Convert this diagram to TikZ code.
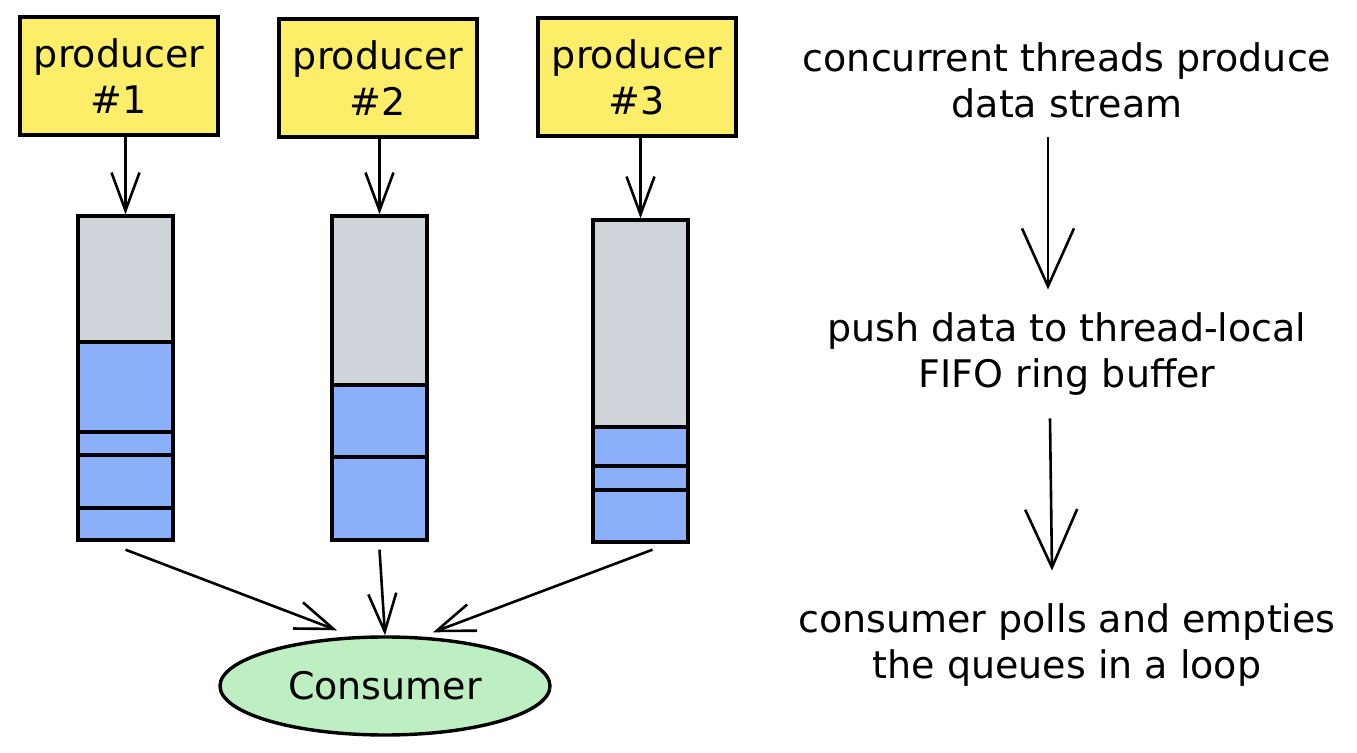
\documentclass[tikz,border=0pt]{standalone}
\usepackage{fontspec}
\setmainfont{DejaVu Sans}
\usetikzlibrary{arrows.meta,shapes.geometric}
\definecolor{prodyellow}{HTML}{FDEE6A}
\definecolor{bufgray}{HTML}{CED4DA}
\definecolor{slotblue}{HTML}{8CAFFA}
\definecolor{consgreen}{HTML}{BDEFC3}
\begin{document}
\begin{tikzpicture}
			[x=0.5pt, y=-0.5pt,
			every node/.style = {font=\fontsize{19pt}{23pt}\selectfont, align=center},
			prod/.style = {rectangle, draw, line width=1.7pt, fill=prodyellow, minimum width=99pt, minimum height=59pt},
			buf/.style = {rectangle, draw, line width=1.7pt, fill=bufgray, minimum width=47.5pt},
			slot/.style = {draw, line width=1.7pt, fill=slotblue},
			cons/.style = {ellipse, draw, line width=1.7pt, fill=consgreen, minimum width=165pt, minimum height=49pt},
			arr/.style = {-{Straight Barb[length=19pt, width=14pt, line width=1.3pt]}, line width=1.3pt},
			bigarr/.style = {-{Straight Barb[length=29pt, width=26pt, line width=1.3pt]}, line width=1.3pt}]
			\useasboundingbox (0,0) rectangle (1357,753);
			% producers
			\node[prod] (p1) at (119,76) {producer\\\#1};
			\node[prod] (p2) at (378,78) {producer\\\#2};
			\node[prod] (p3) at (637,77) {producer\\\#3};
			% ring buffers
			\node[buf, minimum height=162pt] (b1) at (125.5,378) {};
			\foreach \a/\b in {342/432, 432/455, 455/508, 508/540}
				\filldraw[slot] (78,\a) rectangle (173,\b);
			\node[buf, minimum height=162pt] (b2) at (379.5,378) {};
			\foreach \a/\b in {385/457, 457/540}
				\filldraw[slot] (332,\a) rectangle (427,\b);
			\node[buf, minimum height=161pt] (b3) at (640.5,381) {};
			\foreach \a/\b in {427/466, 466/490, 490/542}
				\filldraw[slot] (593,\a) rectangle (688,\b);
			% consumer
			\node[cons] (c) at (385,686) {Consumer};
			\draw[arr] (b1.north |- p1.south) -- (b1.north);
			\draw[arr] (b2.north |- p2.south) -- (b2.north);
			\draw[arr] (b3.north |- p3.south) -- (b3.north);
			\draw[arr] ([yshift=-4pt]b1.south) -- ([xshift=-24pt, yshift=2.5pt]c.north);
			\draw[arr] ([yshift=-4pt]b2.south) -- (c.north);
			\draw[arr] ([xshift=6pt, yshift=-3pt]b3.south) -- ([xshift=24pt, yshift=1.5pt]c.north);
			% steps
			\node (t1) at (1067,80) {concurrent threads produce\\data stream};
			\node (t2) at (1067,354) {push data to thread-local\\FIFO ring buffer};
			\node (t3) at (1067,645) {consumer polls and empties\\the queues in a loop};
			\draw[bigarr] ([xshift=-9.5pt, yshift=-6pt]t1.south) -- ([xshift=-9.5pt, yshift=8pt]t2.north);
			\draw[bigarr] ([xshift=-8.5pt, yshift=-8pt]t2.south) -- ([xshift=-7.5pt, yshift=13pt]t3.north);
		\end{tikzpicture}
\end{document}
